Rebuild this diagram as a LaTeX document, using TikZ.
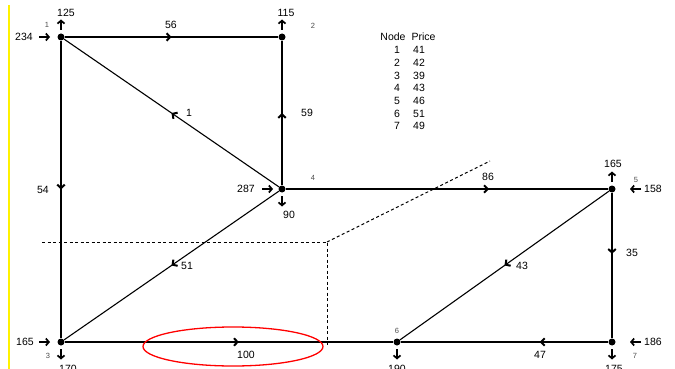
\documentclass[tikz,border=0pt]{standalone}
\usepackage{fontspec}
\setmainfont{Liberation Sans}
\usetikzlibrary{arrows.meta,decorations.markings}
\begin{document}
\begin{tikzpicture}[x=1pt,y=-1pt,
  dot/.style={circle,fill=black,inner sep=0pt,minimum size=7pt},
  edge/.style={line width=1.3pt},
  diag/.style={line width=1.1pt},
  midarr/.style={postaction={decorate,decoration={markings,mark=at position #1 with {\arrow{Straight Barb[length=3.5pt,width=7.5pt,line width=2pt]}}}}},
  inj/.style={line width=1.7pt,-{Straight Barb[length=3pt,width=7pt,line width=1.7pt]}},
  lbl/.style={font=\fontsize{10.5}{12}\selectfont,inner sep=0pt},
  num/.style={font=\fontsize{7.5}{9}\selectfont,text=black!70,inner sep=0pt},
  dashline/.style={line width=1pt,dash pattern=on 3pt off 2.5pt},
]
\useasboundingbox (0,0) rectangle (675,369);
% yellow margin line
\draw[yellow, line width=1.5pt] (9,5) -- (9,369);

% nodes
\node[dot] (n1) at (61,37) {};
\node[dot] (n2) at (282,37) {};
\node[dot] (n4) at (282,189) {};
\node[dot] (n5) at (612,189) {};
\node[dot] (n3) at (61,342) {};
\node[dot] (n6) at (397,342) {};
\node[dot] (n7) at (612,342) {};

% dashed lines
\coordinate (d1) at (42,242);
\coordinate (d2) at (327,242);
\coordinate (d3) at (327,345);
\coordinate (d4) at (490,161);
\draw[dashline] (d1) -- (d2) -- (d3);
\draw[dashline] (d2) -- (d4);

% edges
\draw[edge,midarr=0.5] (n1) -- (n2);
\draw[diag,midarr=0.5] (n4) -- (n1);
\draw[edge,midarr=0.5] (n4) -- (n2);
\draw[edge,midarr=0.5] (n1) -- (n3);
\draw[edge,midarr=0.63] (n4) -- (n5);
\draw[diag,midarr=0.5] (n4) -- (n3);
\draw[diag,midarr=0.5] (n5) -- (n6);
\draw[edge,midarr=0.42] (n5) -- (n7);
\draw[edge,midarr=0.33] (n7) -- (n6);
\draw[edge,midarr=0.53] (n3) -- (n6);

% edge labels
\node[lbl] (l56) at (171,25) {56};
\node[lbl] (l1) at (189,113) {1};
\node[lbl] (l59) at (307,113) {59};
\node[lbl] (l54) at (43,190) {54};
\node[lbl] (l86) at (488,177) {86};
\node[lbl] (l51) at (187,266) {51};
\node[lbl] (l43) at (522,266) {43};
\node[lbl] (l35) at (632,253) {35};
\node[lbl] (l47) at (540,355) {47};
\node[lbl] (l100) at (246,355) {100};

% node numbers
\node[num] (k1) at (47,25) {1};
\node[num] (k2) at (313,26) {2};
\node[num] (k4) at (313,178) {4};
\node[num] (k5) at (636,180) {5};
\node[num] (k3) at (48,356) {3};
\node[num] (k6) at (397,331) {6};
\node[num] (k7) at (635,356) {7};

% injections / withdrawals
\coordinate (a1) at (39,37);   \coordinate (b1) at (50,37);
\draw[inj] (a1) -- (b1);
\node[lbl] (t234) at (24,37) {234};
\coordinate (a2) at (61,30);   \coordinate (b2) at (61,19.5);
\draw[inj] (a2) -- (b2);
\node[lbl] (t125) at (66,13) {125};
\coordinate (a3) at (282,30);  \coordinate (b3) at (282,19.5);
\draw[inj] (a3) -- (b3);
\node[lbl] (t115) at (286,13) {115};
\coordinate (a4) at (262,189); \coordinate (b4) at (273,189);
\draw[inj] (a4) -- (b4);
\node[lbl] (t287) at (246,189) {287};
\coordinate (a5) at (282,196); \coordinate (b5) at (282,206.5);
\draw[inj] (a5) -- (b5);
\node[lbl] (t90) at (289,215) {90};
\coordinate (a6) at (612,182); \coordinate (b6) at (612,171.5);
\draw[inj] (a6) -- (b6);
\node[lbl] (t165a) at (613,164) {165};
\coordinate (a7) at (641,189); \coordinate (b7) at (630,189);
\draw[inj] (a7) -- (b7);
\node[lbl] (t158) at (653,189) {158};
\coordinate (a8) at (641,342); \coordinate (b8) at (630,342);
\draw[inj] (a8) -- (b8);
\node[lbl] (t186) at (653,342) {186};
\coordinate (a9) at (39,342);  \coordinate (b9) at (50,342);
\draw[inj] (a9) -- (b9);
\node[lbl] (t165b) at (25,342) {165};
\coordinate (a10) at (61,349); \coordinate (b10) at (61,359.5);
\draw[inj] (a10) -- (b10);
\node[lbl] (t170) at (68,369) {170};
\coordinate (a11) at (397,349); \coordinate (b11) at (397,359.5);
\draw[inj] (a11) -- (b11);
\node[lbl] (t190) at (397,369) {190};
\coordinate (a12) at (612,349); \coordinate (b12) at (612,359.5);
\draw[inj] (a12) -- (b12);
\node[lbl] (t175) at (614,369) {175};

% red ellipse
\draw[red, line width=1.3pt] (233,346.5) ellipse [x radius=90pt, y radius=19.5pt];

% price table
\node[lbl] (hnode) at (393,37) {Node};
\node[lbl] (hprice) at (423.5,37) {Price};
\foreach \n/\p [count=\i from 0] in {1/41,2/42,3/39,4/43,5/46,6/51,7/49} {
  \node[lbl] (tn\n) at (397,50+12.7*\i) {\n};
  \node[lbl,anchor=west] (tp\n) at (413,50+12.7*\i) {\p};
}
\end{tikzpicture}
\end{document}
